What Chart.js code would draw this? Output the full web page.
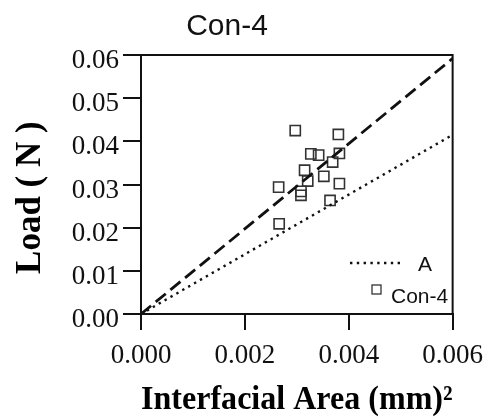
<!DOCTYPE html>
<html>
<head>
<meta charset="utf-8">
<script src="https://cdn.jsdelivr.net/npm/chart.js@4"></script>
<style>
  html, body { margin: 0; padding: 0; background: #fff; }
  #wrap { width: 493px; height: 417px; }
</style>
</head>
<body>
<div id="wrap"><canvas id="loadChart" width="493" height="417"></canvas></div>
<script>
// 資料
const areaValues = [0.00297, 0.00380, 0.00327, 0.00342, 0.00382, 0.00369, 0.00315, 0.00352,
                    0.00321, 0.00382, 0.00265, 0.00308, 0.00308, 0.00364, 0.00266];
const loadValues = [0.0425, 0.0416, 0.0371, 0.0368, 0.0372, 0.0352, 0.0333, 0.0319,
                    0.0308, 0.0302, 0.0294, 0.0284, 0.0275, 0.0263, 0.0209];
const lineX = [0, 0.006];
const dashedY = [0, 0.0592];
const dottedY = [0, 0.0415];
const xTicks = [0, 0.002, 0.004, 0.006];
const yTicks = [0, 0.01, 0.02, 0.03, 0.04, 0.05, 0.06];

const toPoints = (xs, ys) => xs.map((x, i) => ({ x: x, y: ys[i] }));

// 外框 + 自訂圖例
const frameAndLegend = {
    id: 'frameAndLegend',
    afterDraw(chart) {
        const { ctx, chartArea: a } = chart;
        ctx.save();
        ctx.strokeStyle = '#111';
        ctx.lineWidth = 2;
        ctx.strokeRect(a.left, a.top, a.right - a.left, a.bottom - a.top);

        // legend: dotted "A"
        const ds = chart.data.datasets;
        ctx.font = '21px "Liberation Sans", Arial, sans-serif';
        ctx.fillStyle = '#111';
        ctx.textBaseline = 'middle';
        ctx.beginPath();
        ctx.setLineDash(ds[1].borderDash);
        ctx.lineWidth = ds[1].borderWidth;
        ctx.strokeStyle = ds[1].borderColor;
        ctx.moveTo(350, 263);
        ctx.lineTo(403, 263);
        ctx.stroke();
        ctx.setLineDash([]);
        ctx.fillText(ds[1].label, 418, 265);

        // legend: squares "Con-4"
        ctx.lineWidth = 1.3;
        ctx.strokeStyle = '#333';
        ctx.strokeRect(372, 285, 9, 9);
        ctx.fillText(ds[2].label, 391, 297);
        ctx.restore();
    }
};

new Chart(document.getElementById('loadChart'), {
    type: 'scatter',
    data: {
        datasets: [
            {
                type: 'line',
                label: '',
                data: toPoints(lineX, dashedY),
                borderColor: '#111',
                borderWidth: 2.8,
                borderDash: [13, 6],
                pointRadius: 0,
                fill: false
            },
            {
                type: 'line',
                label: 'A',
                data: toPoints(lineX, dottedY),
                borderColor: '#111',
                borderWidth: 2.4,
                borderDash: [2.4, 4.4],
                pointRadius: 0,
                fill: false
            },
            {
                label: 'Con-4',
                data: toPoints(areaValues, loadValues),
                pointStyle: 'rect',
                pointRadius: 7.2,
                pointBorderWidth: 1.6,
                pointBorderColor: '#333',
                pointBackgroundColor: 'rgba(0,0,0,0)',
                showLine: false
            }
        ]
    },
    options: {
        responsive: false,
        animation: false,
        layout: { padding: { left: 0, right: 39, top: 0, bottom: 0 } },
        plugins: {
            legend: { display: false },
            tooltip: { enabled: false },
            title: {
                display: true,
                text: 'Con-4',
                color: '#111',
                font: { family: '"Liberation Sans", Arial, sans-serif', size: 30, weight: 'normal', lineHeight: 1.2 },
                padding: { top: 9, bottom: 10 }
            }
        },
        scales: {
            x: {
                type: 'linear',
                min: 0,
                max: 0.006,
                afterFit: s => { s.height = 103; },
                afterBuildTicks: s => { s.ticks = xTicks.map(v => ({ value: v })); },
                ticks: {
                    color: '#111',
                    maxRotation: 0,
                    padding: 10,
                    font: { family: '"Liberation Serif", "Times New Roman", serif', size: 27 },
                    callback: v => Number(v).toFixed(3)
                },
                grid: { drawOnChartArea: false, drawTicks: true, tickLength: 16, color: '#111', lineWidth: 2 },
                border: { color: '#111', width: 2 },
                title: {
                    display: true,
                    text: 'Interfacial Area (mm)²',
                    color: '#000',
                    font: { family: '"Liberation Serif", "Times New Roman", serif', size: 34, weight: 'bold', lineHeight: 1 },
                    padding: 0
                }
            },
            y: {
                type: 'linear',
                min: 0,
                max: 0.06,
                afterFit: s => { s.width = 141; },
                afterBuildTicks: s => { s.ticks = yTicks.map(v => ({ value: v })); },
                ticks: {
                    color: '#111',
                    padding: 4,
                    labelOffset: 6,
                    font: { family: '"Liberation Serif", "Times New Roman", serif', size: 27 },
                    callback: v => Number(v).toFixed(2)
                },
                grid: { drawOnChartArea: false, drawTicks: true, tickLength: 18, color: '#111', lineWidth: 2 },
                border: { color: '#111', width: 2 },
                title: {
                    display: true,
                    text: 'Load ( N )\u00a0\u00a0\u00a0',
                    color: '#000',
                    font: { family: '"Liberation Serif", "Times New Roman", serif', size: 35, weight: 'bold', lineHeight: 1.2 },
                    padding: { top: 10, bottom: 0 }
                }
            }
        }
    },
    plugins: [frameAndLegend]
});
</script>
</body>
</html>
